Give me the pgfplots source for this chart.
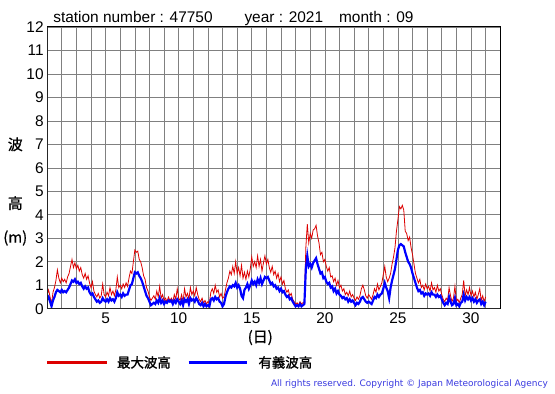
\documentclass[border=0pt]{standalone}
\usepackage{fontspec}
\setmainfont{Liberation Sans}
\newfontfamily\cjk[FakeBold=0.8]{Noto Sans CJK JP}
\newfontfamily\cjkb[FakeBold=1.5]{Noto Sans CJK JP}
\newfontfamily\dejavu{DejaVu Sans}
\usepackage{pgfplots}
\usepackage{pgfplotstable}
\pgfplotsset{compat=1.18}
\definecolor{wred}{HTML}{DD0000}
\definecolor{wblue}{HTML}{0000FF}
\definecolor{gridc}{HTML}{808080}
\definecolor{copyc}{HTML}{3A3AE0}

\pgfplotstableread{
d mx sg
1.0 0.6 0.4
1.1 0.8 0.5
1.2 0.5 0.3
1.3 0.2 0.1
1.4 0.7 0.35
1.5 0.9 0.5
1.6 1.2 0.7
1.7 1.65 0.8
1.8 1.3 0.75
1.9 1.1 0.7
2.0 1.3 0.8
2.1 1.15 0.7
2.2 1.25 0.75
2.3 1.1 0.7
2.4 1.35 0.8
2.5 1.5 0.9
2.6 1.8 1.05
2.7 2.1 1.2
2.8 1.75 1.15
2.9 1.95 1.25
3.0 1.7 1.1
3.1 1.85 1.15
3.2 1.6 1.05
3.3 1.75 1.1
3.4 1.45 0.95
3.5 1.3 0.85
3.6 1.5 0.95
3.7 1.25 0.85
3.8 1.4 0.9
3.9 1.1 0.7
4.0 0.9 0.6
4.1 1.15 0.65
4.2 0.75 0.5
4.3 0.6 0.4
4.4 0.5 0.3
4.5 0.65 0.35
4.6 0.45 0.25
4.7 0.55 0.3
4.8 1.05 0.45
4.9 0.6 0.35
5.0 0.5 0.3
5.1 0.7 0.4
5.2 0.55 0.3
5.3 0.9 0.45
5.4 0.6 0.35
5.5 0.75 0.4
5.6 0.55 0.3
5.7 0.8 0.45
5.8 1.35 0.7
5.9 0.9 0.55
6.0 1.0 0.6
6.1 0.85 0.5
6.2 1.05 0.65
6.3 0.9 0.55
6.4 1.1 0.6
6.5 0.95 0.6
6.6 1.3 0.8
6.7 1.6 1.0
6.8 1.5 1.05
6.9 2.0 1.3
7.0 2.5 1.55
7.1 2.4 1.5
7.2 2.45 1.55
7.3 2.1 1.4
7.4 2.0 1.3
7.5 1.75 1.15
7.6 1.4 0.95
7.7 1.25 0.75
7.8 0.9 0.55
7.9 0.75 0.45
8.0 0.5 0.3
8.1 0.35 0.15
8.2 0.45 0.2
8.3 0.55 0.25
8.4 0.4 0.2
8.5 0.75 0.35
8.6 0.5 0.25
8.7 0.95 0.45
8.8 0.45 0.25
8.9 0.6 0.35
9.0 0.35 0.2
9.1 0.45 0.3
9.2 0.3 0.25
9.3 0.5 0.35
9.4 0.35 0.3
9.5 0.45 0.35
9.6 0.3 0.2
9.7 0.6 0.35
9.8 0.4 0.25
9.9 0.85 0.4
10.0 0.45 0.3
10.1 0.35 0.2
10.2 0.6 0.35
10.3 0.3 0.15
10.4 0.85 0.4
10.5 0.5 0.3
10.6 0.65 0.4
10.7 0.4 0.2
10.8 0.9 0.45
10.9 0.6 0.35
11.0 0.75 0.4
11.1 0.55 0.3
11.2 0.9 0.45
11.3 0.6 0.35
11.4 0.4 0.2
11.5 0.3 0.15
11.6 0.45 0.25
11.7 0.25 0.1
11.8 0.35 0.2
11.9 0.2 0.1
12.0 0.3 0.15
12.1 0.25 0.1
12.2 0.7 0.4
12.3 0.85 0.45
12.4 0.65 0.35
12.5 1.0 0.5
12.6 0.7 0.4
12.7 0.8 0.45
12.8 0.5 0.3
12.9 0.65 0.25
13.0 0.45 0.1
13.1 0.5 0.2
13.2 0.8 0.5
13.3 1.1 0.7
13.4 1.3 0.85
13.5 1.6 0.95
13.6 1.45 0.9
13.7 1.8 1.0
13.8 1.5 0.95
13.9 2.0 1.1
14.0 1.5 0.9
14.1 1.75 1.0
14.2 1.4 0.85
14.3 1.85 0.55
14.4 1.3 0.45
14.5 1.55 0.8
14.6 1.25 0.9
14.7 1.6 1.05
14.8 1.35 0.85
14.9 1.7 1.0
15.0 2.2 1.2
15.1 1.8 1.05
15.2 2.0 1.15
15.3 1.75 1.0
15.4 2.25 1.25
15.5 1.8 1.1
15.6 2.1 1.3
15.7 1.6 1.05
15.8 1.95 1.2
15.9 2.25 1.35
16.0 1.9 1.3
16.1 2.1 1.35
16.2 1.75 1.2
16.3 1.55 1.05
16.4 1.8 1.1
16.5 1.45 0.95
16.6 1.6 1.0
16.7 1.3 0.85
16.8 1.5 0.9
16.9 1.15 0.75
17.0 1.35 0.85
17.1 1.05 0.7
17.2 1.2 0.75
17.3 0.85 0.6
17.4 0.7 0.5
17.5 0.8 0.55
17.6 0.55 0.4
17.7 0.65 0.45
17.8 0.4 0.3
17.9 0.3 0.2
18.0 0.2 0.1
18.1 0.25 0.15
18.2 0.15 0.1
18.3 0.3 0.2
18.4 0.2 0.1
18.5 0.25 0.15
18.6 0.3 0.2
18.7 2.6 1.7
18.8 3.6 2.25
18.9 2.8 1.8
19.0 3.2 1.9
19.1 3.0 1.75
19.2 3.35 1.95
19.3 3.4 2.05
19.4 3.55 2.15
19.5 3.1 1.9
19.6 2.8 1.7
19.7 2.3 1.5
19.8 2.4 1.55
19.9 2.0 1.3
20.0 2.1 1.35
20.1 1.8 1.15
20.2 1.6 1.05
20.3 1.75 1.1
20.4 1.35 0.9
20.5 1.4 0.95
20.6 1.15 0.75
20.7 1.3 0.85
20.8 1.0 0.65
20.9 1.2 0.75
21.0 0.9 0.6
21.1 1.0 0.55
21.2 0.75 0.45
21.3 0.85 0.5
21.4 0.6 0.4
21.5 0.7 0.45
21.6 0.55 0.3
21.7 0.75 0.4
21.8 0.5 0.3
21.9 0.6 0.35
22.0 0.45 0.25
22.1 0.35 0.15
22.2 0.5 0.25
22.3 0.4 0.2
22.4 0.55 0.3
22.5 0.85 0.45
22.6 1.0 0.5
22.7 0.8 0.4
22.8 0.55 0.3
22.9 0.45 0.25
23.0 0.6 0.3
23.1 0.5 0.25
23.2 0.4 0.2
23.3 0.6 0.35
23.4 0.85 0.5
23.5 0.7 0.45
23.6 1.05 0.6
23.7 0.8 0.5
23.8 0.95 0.6
23.9 1.1 0.65
24.0 1.45 0.85
24.1 1.8 1.1
24.2 1.35 0.9
24.3 1.15 0.75
24.4 1.3 0.45
24.5 1.5 0.9
24.6 1.9 1.2
24.7 2.2 1.45
24.8 2.6 1.7
24.9 3.3 2.1
25.0 3.8 2.5
25.1 4.35 2.7
25.2 4.25 2.75
25.3 4.4 2.7
25.4 4.2 2.65
25.5 3.3 2.4
25.6 3.2 2.2
25.7 2.9 2.0
25.8 3.05 1.9
25.9 2.6 1.75
26.0 2.3 1.5
26.1 1.9 1.3
26.2 1.5 1.1
26.3 1.3 0.9
26.4 1.1 0.75
26.5 1.25 0.8
26.6 0.9 0.65
26.7 1.0 0.7
26.8 0.8 0.55
26.9 1.05 0.65
27.0 0.85 0.6
27.1 0.95 0.65
27.2 0.75 0.55
27.3 1.1 0.7
27.4 0.8 0.6
27.5 0.9 0.6
27.6 0.7 0.5
27.7 1.0 0.6
27.8 0.75 0.5
27.9 0.85 0.55
28.0 0.6 0.4
28.1 0.4 0.25
28.2 0.3 0.15
28.3 0.45 0.25
28.4 0.35 0.2
28.5 0.9 0.5
28.6 0.55 0.3
28.7 0.3 0.15
28.8 0.45 0.2
28.9 0.95 0.45
29.0 0.3 0.15
29.1 0.4 0.2
29.2 0.25 0.1
29.3 0.45 0.25
29.4 0.6 0.3
29.5 1.2 0.6
29.6 0.55 0.35
29.7 0.8 0.5
29.8 0.6 0.4
29.9 0.9 0.5
30.0 0.55 0.35
30.1 0.75 0.45
30.2 0.5 0.3
30.3 0.7 0.4
30.4 0.4 0.25
30.5 0.6 0.35
30.6 0.85 0.4
30.7 0.35 0.2
30.8 0.55 0.3
30.9 0.3 0.15
31.0 0.5 0.3
}\wave

\begin{document}
\begin{tikzpicture}
\fill[white] (0,0) rectangle (555pt,395pt);
\begin{axis}[
  at={(45pt,85pt)}, anchor=south west,
  scale only axis, width=455pt, height=283pt,
  xmin=1, xmax=32, ymin=0, ymax=12,
  xtick={5,10,...,30}, ytick={0,...,12},
  minor xtick={1,...,32},
  grid=both,
  major grid style={gridc, line width=0.55pt},
  minor grid style={gridc, line width=0.55pt},
  major tick length=0pt, minor tick length=0pt,
  axis line style={black, line width=0.8pt},
  tick label style={font=\fontsize{15.5}{17}\selectfont},
  /pgf/number format/assume math mode=true,
  xticklabel style={yshift=-1pt},
]
\addplot[wred, line width=0.8pt] table[x=d,y=mx]{\wave};
\addplot[wblue, line width=2.2pt] table[x=d,y=sg]{\wave};
\draw[line width=2pt, black!85] (rel axis cs:0,1) -- (rel axis cs:0,0) -- (rel axis cs:1,0);
\end{axis}
% title
\begin{scope}[every node/.style={inner sep=0pt, anchor=base west, font=\fontsize{15.5}{17}\selectfont}]
\node at (51pt,372pt) {station number : 47750};
\node at (243pt,372pt) {year : 2021};
\node at (338pt,372pt) {month : 09};
\end{scope}
% y label
\node[font=\cjk\fontsize{15}{17}\selectfont] at (13pt,250pt) {波};
\node[font=\cjk\fontsize{15}{17}\selectfont] at (13pt,191pt) {高};
\node[font=\cjk\fontsize{15}{17}\selectfont] at (13pt,156pt) {(m)};
% x label
\node[font=\cjk\fontsize{15}{17}\selectfont] at (259pt,56pt) {(日)};
% legend
\draw[wred, line width=3pt] (45pt,31pt) -- (105pt,31pt);
\node[font=\cjkb\fontsize{13.5}{15}\selectfont, anchor=west, inner sep=0pt] at (115pt,31pt) {最大波高};
\draw[wblue, line width=3pt] (187pt,31pt) -- (246pt,31pt);
\node[font=\cjkb\fontsize{13.5}{15}\selectfont, anchor=west, inner sep=0pt] at (257pt,31pt) {有義波高};
% copyright
\node[font=\dejavu\fontsize{9}{10}\selectfont, text=copyc, anchor=east, inner sep=0pt] at (548pt,9pt) {All rights reserved. Copyright © Japan Meteorological Agency};
\end{tikzpicture}
\end{document}
